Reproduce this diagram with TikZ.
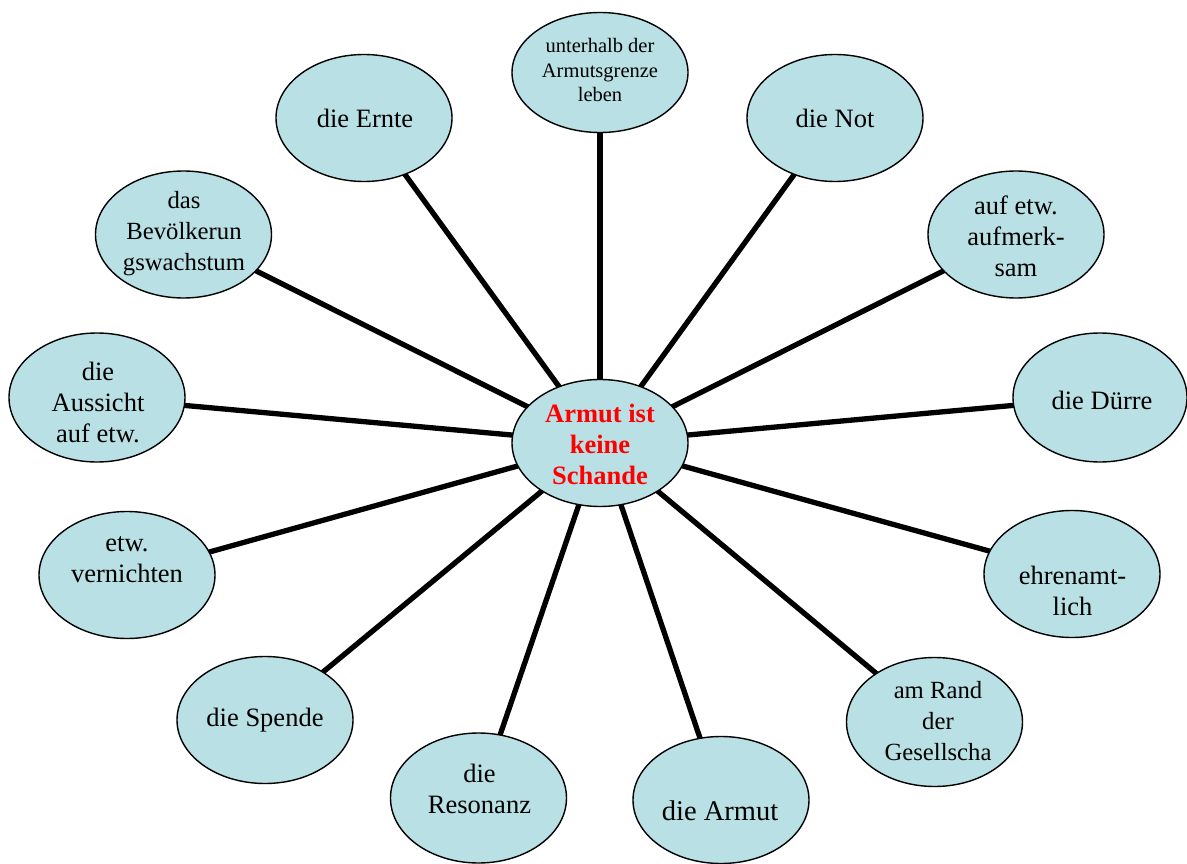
\documentclass[tikz,border=0pt]{standalone}
\usepackage{fontspec}
\setmainfont{Liberation Serif}
\usetikzlibrary{shapes.geometric}
\definecolor{ovalfill}{RGB}{185,224,228}
\definecolor{spokered}{RGB}{255,0,0}
\pgfdeclarelayer{bg}
\pgfsetlayers{bg,main}
\begin{document}
\begin{tikzpicture}[x=1pt,y=-1pt,
  oval/.style={ellipse,draw=black,line width=1.4pt,fill=ovalfill,inner sep=0pt,minimum width=176pt,minimum height=127pt},
  lbl/.style={align=center,inner sep=0pt,font=\fontsize{26.5}{31}\selectfont},
  lblsmall/.style={lbl,font=\fontsize{24.7}{31}\selectfont},
  spoke/.style={line width=5.3pt,black}]
\useasboundingbox (0,0) rectangle (1187,864);
% ellipses
\node[oval] (c) at (600,443) {};
\node[oval,minimum height=120pt] (unt) at (600,72.5) {};
\node[oval] (ern) at (364,118) {};
\node[oval] (not) at (835,118) {};
\node[oval] (bev) at (183.5,234.5) {};
\node[oval] (auf) at (1016,234.5) {};
\node[oval,minimum height=129pt] (aus) at (97,397.5) {};
\node[oval,minimum width=174pt,minimum height=129pt] (due) at (1100,397.5) {};
\node[oval] (ver) at (127,575) {};
\node[oval] (ehr) at (1072,574) {};
\node[oval] (spe) at (265,720) {};
\node[oval,minimum height=129pt] (ges) at (934.5,722) {};
\node[oval,minimum height=130pt] (res) at (478.5,798) {};
\node[oval,minimum height=127pt] (arm) at (721,800) {};
% texts
\node[lbl,font=\fontsize{20.5}{24.5}\selectfont] (tunt) at (600,70) {unterhalb der\\Armutsgrenze\\leben};
\node[lbl,font=\bfseries\fontsize{26.5}{31}\selectfont,text=spokered] (tc) at (600,444) {Armut ist\\keine\\Schande};
\node[lbl] (tern) at (365,118) {die Ernte};
\node[lbl] (tnot) at (835,118) {die Not};
\node[lblsmall] (tbev) at (184,234) {das\\Bevölkerun\\gswachstum};
\node[lbl] (tauf) at (1016,236) {auf etw.\\aufmerk-\\sam};
\node[lbl] (taus) at (98,402) {die\\Aussicht\\auf etw.};
\node[lbl] (tdue) at (1102,400.5) {die Dürre};
\node[lbl] (tver) at (127,560) {etw.\\vernichten};
\node[lbl] (tehr) at (1072.5,591) {ehrenamt-\\lich};
\node[lbl] (tspe) at (265,720) {die Spende};
\node[lblsmall] (tges) at (938,721.5) {am Rand\\der\\Gesellscha};
\node[lbl] (tres) at (479.5,789) {die\\Resonanz};
\node[lbl,font=\fontsize{28.5}{34}\selectfont] (tarm) at (720,811) {die Armut};
% spokes
\begin{pgfonlayer}{bg}
\foreach \n in {unt,ern,not,bev,auf,aus,due,ver,ehr,spe,ges,res,arm}
  \draw[spoke] (c.center) -- (\n.center);
\end{pgfonlayer}
\end{tikzpicture}
\end{document}
